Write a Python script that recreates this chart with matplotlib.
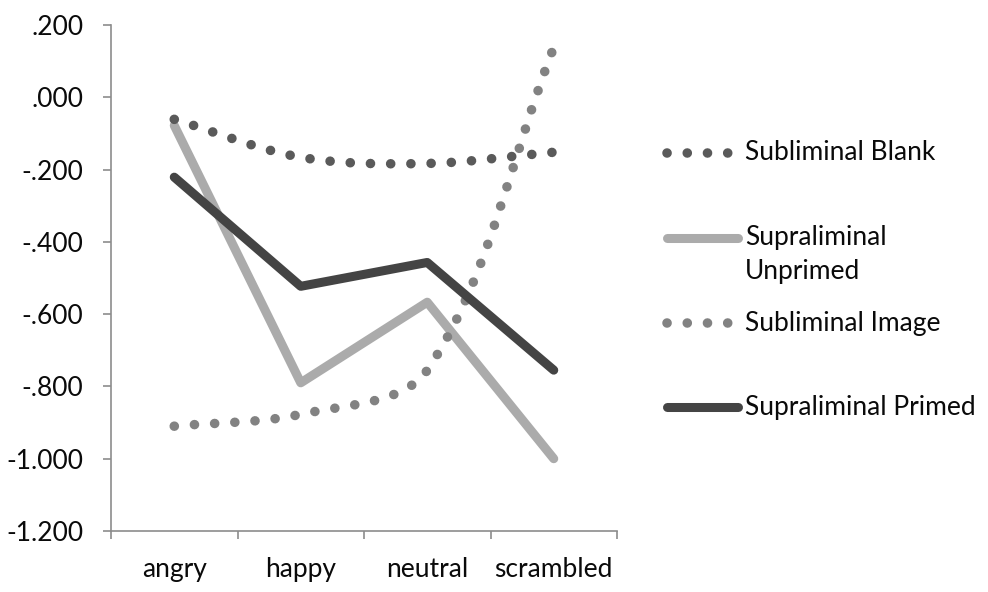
import matplotlib
matplotlib.use("Agg")
import matplotlib.pyplot as plt
from matplotlib.path import Path
from matplotlib.patches import PathPatch
from matplotlib.lines import Line2D
import numpy as np

categories = ["angry", "happy", "neutral", "scrambled"]
subliminal_blank = [-0.061, -0.166, -0.183, -0.152]
supraliminal_unprimed = [-0.078, -0.790, -0.567, -1.000]
subliminal_image = [-0.910, -0.877, -0.755, 0.138]
supraliminal_primed = [-0.221, -0.523, -0.457, -0.755]
y_ticks = [-1.2, -1.0, -0.8, -0.6, -0.4, -0.2, 0.0, 0.2]

FONT = ["Lato", "DejaVu Sans"]
plt.rcParams["font.family"] = FONT
FS = 19
TXT = "#0a0a0a"

fig = plt.figure(figsize=(9.88, 5.92), dpi=100)
ax = fig.add_axes([111 / 988, 1 - 531 / 592, 506 / 988, 506 / 592])
ax.set_xlim(-0.5, len(categories) - 0.5)
ax.set_ylim(-1.2, 0.2)

x = np.arange(len(categories))


def smooth_path(xs, ys):
    # Excel-like smoothed line: cubic Bezier, tangents weighted by segment
    # lengths measured in display space.
    data = np.column_stack([xs, ys]).astype(float)
    pts = ax.transData.transform(data)
    n = len(pts)
    verts = [pts[0]]
    for i in range(n - 1):
        p1, p2 = pts[i], pts[i + 1]
        p0 = pts[i - 1] if i > 0 else p1
        p3 = pts[i + 2] if i + 2 < n else p2
        d01 = np.linalg.norm(p1 - p0)
        d12 = np.linalg.norm(p2 - p1)
        d23 = np.linalg.norm(p3 - p2)
        c1 = p1 + (p2 - p0) * d12 / (d01 + d12) / 3.0
        c2 = p2 - (p3 - p1) * d12 / (d12 + d23) / 3.0
        verts += [c1, c2, p2]
    verts = ax.transData.inverted().transform(np.array(verts))
    codes = [Path.MOVETO] + [Path.CURVE4] * (len(verts) - 1)
    return Path(verts, codes)


DOT_LW = 6.9
dot_style = (0, (0.01, 2.1))

c_blank = "#5a5a5a"
c_image = "#828282"
c_unprimed = "#ababab"
c_primed = "#444444"

pb = PathPatch(smooth_path(x, subliminal_blank), fill=False, edgecolor=c_blank,
               linewidth=DOT_LW, linestyle=dot_style, capstyle="round", zorder=3)
ax.add_patch(pb)
ax.plot(x, supraliminal_unprimed, color=c_unprimed, linewidth=6.5,
        solid_capstyle="round", solid_joinstyle="round", zorder=2)
pi = PathPatch(smooth_path(x, subliminal_image), fill=False, edgecolor=c_image,
               linewidth=DOT_LW, linestyle=dot_style, capstyle="round", zorder=4)
ax.add_patch(pi)
ax.plot(x, supraliminal_primed, color=c_primed, linewidth=6.5,
        solid_capstyle="round", solid_joinstyle="round", zorder=5)

spine_c = "#8c8c8c"
for s in ["top", "right"]:
    ax.spines[s].set_visible(False)
for s in ["left", "bottom"]:
    ax.spines[s].set_color(spine_c)
    ax.spines[s].set_linewidth(1.2)


def fmt(v):
    s = f"{v:.3f}"
    if s.startswith("-0"):
        s = "-" + s[2:]
    elif s.startswith("0"):
        s = s[1:]
    return s


ax.set_yticks(y_ticks)
ax.set_yticklabels([fmt(v) for v in y_ticks])
ax.tick_params(axis="y", direction="out", length=6, width=1.2, color=spine_c,
               pad=14, labelsize=FS, labelcolor=TXT)

ax.set_xticks(x)
ax.set_xticklabels(categories)
ax.set_xticks(np.arange(len(categories) + 1) - 0.5, minor=True)
ax.tick_params(axis="x", which="major", length=0, pad=19, labelsize=FS,
               labelcolor=TXT)
ax.tick_params(axis="x", which="minor", direction="out", length=6, width=1.2,
               color=spine_c)

legend_items = [
    ("Subliminal Blank", c_blank, "dot", 153),
    ("Supraliminal\nUnprimed", c_unprimed, "solid", 238),
    ("Subliminal Image", c_image, "dot", 323),
    ("Supraliminal Primed", c_primed, "solid", 407),
]
W, H = 988, 592
for label, col, kind, ypx in legend_items:
    yf = 1 - ypx / H
    if kind == "dot":
        ln = Line2D([667 / W, 733 / W], [yf, yf], transform=fig.transFigure,
                    color=col, linewidth=DOT_LW, linestyle=(0, (0.01, 2.1)),
                    dash_capstyle="round")
    else:
        ln = Line2D([667 / W, 738 / W], [yf, yf], transform=fig.transFigure,
                    color=col, linewidth=6.5, solid_capstyle="round")
    fig.add_artist(ln)
    if "\n" in label:
        ytxt = 1 - (ypx + 17) / H
    else:
        ytxt = yf
    fig.text(745 / W, ytxt, label, transform=fig.transFigure, fontsize=FS,
             va="center", ha="left", color=TXT, linespacing=1.45)

fig.savefig("out.png", dpi=100)
